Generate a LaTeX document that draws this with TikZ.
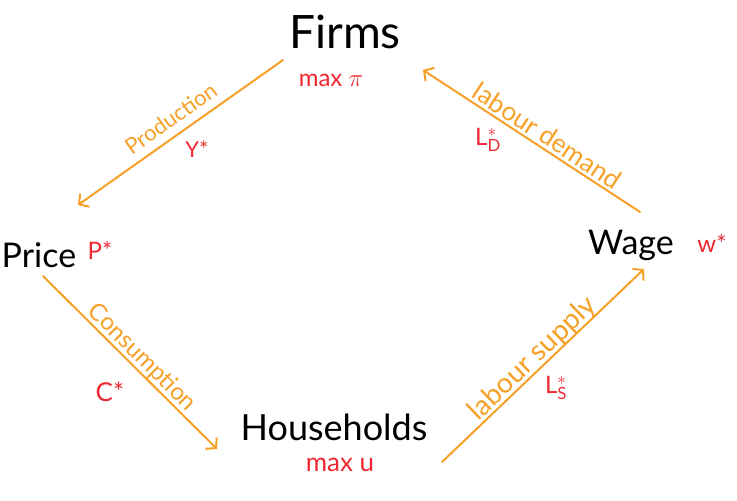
\documentclass[tikz,border=0pt]{standalone}
\usepackage{fontspec}
\setmainfont{Lato}
\usetikzlibrary{arrows.meta}
\definecolor{flowc}{RGB}{247,160,40}
\definecolor{eqc}{RGB}{238,40,50}
\begin{document}
\begin{tikzpicture}[x=1pt,y=-1pt,
  agent/.style={text=black, inner sep=0pt},
  eqlab/.style={text=eqc, inner sep=0pt, font=\fontsize{24}{24}\selectfont},
  flowlab/.style={text=flowc, inner sep=0pt, sloped, anchor=base},
  conn/.style={draw=flowc, line width=2pt, line cap=round, line join=round,
    -{Straight Barb[length=7pt,width=16pt,line width=2pt]}}]
\useasboundingbox (0,0) rectangle (737,501);

% agents
\node[agent, font=\fontsize{46}{46}\selectfont] (firms) at (345,32) {Firms};
\node[agent, font=\fontsize{34}{34}\selectfont] (price) at (39,255) {Price};
\node[agent, font=\fontsize{34}{34}\selectfont] (wage) at (631,245) {Wage};
\node[agent, font=\fontsize{36}{36}\selectfont] (hh) at (334,427) {Households};

% equilibrium labels
\node[eqlab] (maxpi) at (331,80) {max $\pi$};
\node[eqlab, font=\fontsize{26}{26}\selectfont] (maxu) at (340,465) {max u};
\node[eqlab] (pstar) at (100,250) {P*};
\node[eqlab] (wstar) at (712,243) {w*};
\node[eqlab, font=\fontsize{22}{22}\selectfont] (ystar) at (197,149) {Y*};
\node[eqlab] (ld) at (488,140) {L$^{*}_{\mathrm{D}}$};
\node[eqlab, font=\fontsize{26}{26}\selectfont] (cstar) at (110,392) {C*};
\node[eqlab] (ls) at (556,388) {L$^{*}_{\mathrm{S}}$};

% connector end points
\coordinate (prodS) at (283,60);
\coordinate (prodE) at (78,205);
\coordinate (consS) at (43,276);
\coordinate (consE) at (217,449);
\coordinate (lsS) at (442,462);
\coordinate (lsE) at (644,269);
\coordinate (ldS) at (640,212);
\coordinate (ldE) at (423,70);

% connectors with their flow labels
\draw[conn] (prodS) -- node[flowlab, pos=0.5, yshift=9pt, font=\fontsize{22}{22}\selectfont] (prod) {Production} (prodE);
\draw[conn] (consS) -- node[flowlab, pos=0.52, yshift=5pt, font=\fontsize{24}{24}\selectfont] (cons) {Consumption} (consE);
\draw[conn] (lsS) -- node[flowlab, pos=0.49, yshift=4pt, font=\fontsize{28}{28}\selectfont] (lsup) {labour supply} (lsE);
\draw[conn] (ldS) -- node[flowlab, pos=0.46, yshift=4pt, font=\fontsize{26}{26}\selectfont] (ldem) {labour demand} (ldE);
\end{tikzpicture}
\end{document}
